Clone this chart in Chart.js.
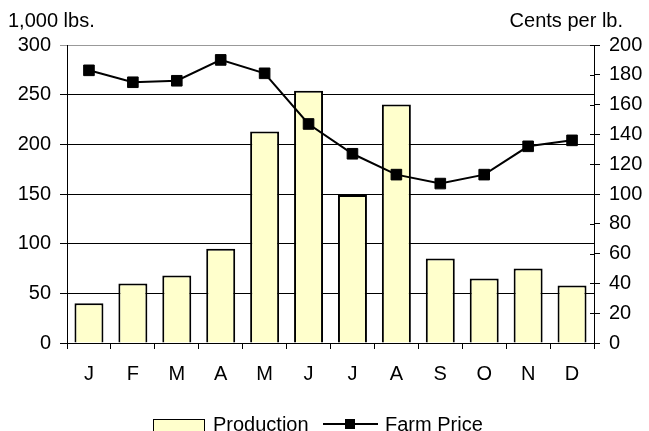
<!DOCTYPE html>
<html>
<head>
<meta charset="utf-8">
<script src="https://cdn.jsdelivr.net/npm/chart.js@4"></script>
<style>
  body { margin: 0; background: #fff; }
  canvas { display: block; }
</style>
</head>
<body>
<canvas id="chart" width="649" height="431"></canvas>
<script>
const months = ['J', 'F', 'M', 'A', 'M', 'J', 'J', 'A', 'S', 'O', 'N', 'D'];
const production = [40, 60, 68, 95, 213, 254, 149, 240, 85, 65, 75, 58];
const farmPrice = [183, 175, 176, 190, 181, 147, 127, 113, 107, 113, 132, 136];
const leftTitle = '1,000 lbs.';
const rightTitle = 'Cents per lb.';

Chart.defaults.font.family = '"Liberation Sans", Arial, sans-serif';
Chart.defaults.font.size = 20;
Chart.defaults.color = '#000';

// titles above each axis and the legend at the bottom
const extras = {
    id: 'extras',
    afterDraw(chart) {
        const ctx = chart.ctx;
        const area = chart.chartArea;
        ctx.save();
        ctx.fillStyle = '#000';
        ctx.font = '20px "Liberation Sans", Arial, sans-serif';
        ctx.textBaseline = 'alphabetic';
        ctx.textAlign = 'left';
        ctx.fillText(leftTitle, 8, 27);
        ctx.textAlign = 'right';
        ctx.fillText(rightTitle, 623, 27);

        // inner half of the right axis ticks
        const y1 = chart.scales.y1;
        ctx.strokeStyle = '#000';
        ctx.lineWidth = 1;
        y1.ticks.forEach(t => {
            const y = Math.round(y1.getPixelForValue(t.value)) + 0.5;
            ctx.beginPath();
            ctx.moveTo(area.right - 4, y);
            ctx.lineTo(area.right, y);
            ctx.stroke();
        });

        // legend
        const ly = 424;
        ctx.fillStyle = '#FFFFCC';
        ctx.fillRect(153, 419, 52, 14);
        ctx.strokeRect(153.5, 419.5, 51, 14);
        ctx.fillStyle = '#000';
        ctx.textAlign = 'left';
        ctx.textBaseline = 'middle';
        ctx.fillText(chart.data.datasets[1].label, 213, ly + 1);
        ctx.lineWidth = 2;
        ctx.beginPath();
        ctx.moveTo(323, ly);
        ctx.lineTo(378, ly);
        ctx.stroke();
        ctx.fillRect(345, ly - 5, 10, 10);
        ctx.fillText(chart.data.datasets[0].label, 385, ly + 1);
        ctx.restore();
    }
};

new Chart(document.getElementById('chart'), {
    data: {
        labels: months,
        datasets: [
            {
                type: 'line',
                label: 'Farm Price',
                data: farmPrice,
                yAxisID: 'y1',
                borderColor: '#000',
                backgroundColor: '#000',
                borderWidth: 2,
                pointStyle: 'rect',
                pointRadius: 7.5,
                pointBorderWidth: 1,
                order: 0
            },
            {
                type: 'bar',
                label: 'Production',
                data: production,
                yAxisID: 'y',
                backgroundColor: '#FFFFCC',
                borderColor: '#000',
                borderWidth: 2,
                barPercentage: 0.66,
                categoryPercentage: 1,
                order: 1
            }
        ]
    },
    options: {
        responsive: false,
        animation: false,
        layout: { padding: { top: 45, left: 0, right: 0, bottom: 0 } },
        plugins: {
            legend: { display: false },
            tooltip: { enabled: false }
        },
        scales: {
            x: {
                offset: true,
                afterFit: (s) => { s.height = 88; },
                grid: {
                    offset: true,
                    drawOnChartArea: false,
                    drawTicks: true,
                    tickLength: 6,
                    color: '#000'
                },
                border: { display: true, color: '#000', width: 1 },
                ticks: { padding: 13, maxRotation: 0, autoSkip: false }
            },
            y: {
                position: 'left',
                min: 0,
                max: 300,
                afterFit: (s) => { s.width = 67; },
                ticks: { stepSize: 50, padding: 9 },
                grid: {
                    tickLength: 7,
                    color: (c) => (c.tick && c.tick.value === 300) ? '#999' : '#000'
                },
                border: { display: true, color: '#000', width: 1 }
            },
            y1: {
                position: 'right',
                min: 0,
                max: 200,
                afterFit: (s) => { s.width = 55; },
                ticks: { stepSize: 20, padding: 9 },
                grid: {
                    drawOnChartArea: false,
                    tickLength: 6,
                    color: '#000'
                },
                border: { display: true, color: '#000', width: 1 }
            }
        }
    },
    plugins: [extras]
});
</script>
</body>
</html>
